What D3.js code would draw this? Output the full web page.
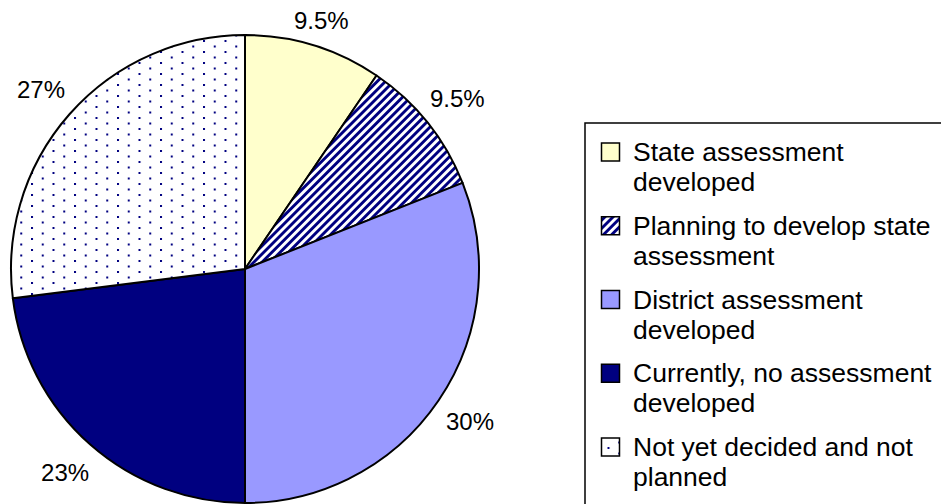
<!DOCTYPE html>
<html>
<head>
<meta charset="utf-8">
<script src="https://cdn.jsdelivr.net/npm/d3@7"></script>
<style>
  body { margin: 0; background: #fff; }
  svg { display: block; }
  text { font-family: "Liberation Sans", Arial, sans-serif; fill: #000; }
</style>
</head>
<body>
<div id="chart"></div>
<script>
// data
var categories = [
  "State assessment developed",
  "Planning to develop state assessment",
  "District assessment developed",
  "Currently, no assessment developed",
  "Not yet decided and not planned"
];
var values = [9.5, 9.5, 31, 23, 27];
var valueLabels = ["9.5%", "9.5%", "30%", "23%", "27%"];
var legendLines = [
  ["State assessment", "developed"],
  ["Planning to develop state", "assessment"],
  ["District assessment", "developed"],
  ["Currently, no assessment", "developed"],
  ["Not yet decided and not", "planned"]
];

var width = 941, height = 504;
var cx = 245, cy = 269, radius = 234;

var svg = d3.select("#chart")
  .append("svg")
  .attr("width", width)
  .attr("height", height);

// fill patterns
var defs = svg.append("defs");

var stripes = defs.append("pattern")
  .attr("id", "stripes")
  .attr("patternUnits", "userSpaceOnUse")
  .attr("width", 5.8)
  .attr("height", 10)
  .attr("patternTransform", "rotate(45)");
stripes.append("rect").attr("width", 5.8).attr("height", 10).attr("fill", "#fff");
stripes.append("rect").attr("width", 2.9).attr("height", 10).attr("fill", "#000080");

var dots = defs.append("pattern")
  .attr("id", "dots")
  .attr("patternUnits", "userSpaceOnUse")
  .attr("x", 1)
  .attr("y", 2)
  .attr("width", 21.5)
  .attr("height", 11);
dots.append("rect").attr("width", 21.5).attr("height", 11).attr("fill", "#fff");
dots.append("rect").attr("x", 0).attr("y", 0).attr("width", 2).attr("height", 2).attr("fill", "#000080");
dots.append("rect").attr("x", 10.75).attr("y", 5.5).attr("width", 2).attr("height", 2).attr("fill", "#000080");

var fills = ["#FFFFCC", "url(#stripes)", "#9999FF", "#000080", "url(#dots)"];

var color = d3.scaleOrdinal().domain(categories).range(fills);

var pie = d3.pie().sort(null).value(function (d) { return d.value; });
var data = categories.map(function (c, i) {
  return { name: c, value: values[i], label: valueLabels[i] };
});
var arcs = pie(data);

var arc = d3.arc().innerRadius(0).outerRadius(radius);
var labelArc = d3.arc().innerRadius(272).outerRadius(272);

var g = svg.append("g")
  .attr("transform", "translate(" + cx + "," + cy + ")");

g.selectAll("path")
  .data(arcs)
  .enter()
  .append("path")
  .attr("d", arc)
  .attr("fill", function (d) { return color(d.data.name); })
  .attr("stroke", "#000")
  .attr("stroke-width", 2)
  .attr("stroke-linejoin", "round");

// percentage labels outside the pie
g.selectAll("text.pct")
  .data(arcs)
  .enter()
  .append("text")
  .attr("class", "pct")
  .attr("transform", function (d) {
    var p = labelArc.centroid(d);
    // keep labels below the top edge, pulling them in along their angle
    var minY = 21 - cy;
    if (p[1] < minY) {
      var k = minY / p[1];
      p = [p[0] * k, minY];
    }
    return "translate(" + p[0] + "," + p[1] + ")";
  })
  .attr("text-anchor", "middle")
  .attr("dy", "0.35em")
  .style("font-size", "24px")
  .text(function (d) { return d.data.label; });

// legend
var legend = svg.append("g").attr("transform", "translate(585,123)");

legend.append("rect")
  .attr("x", 0)
  .attr("y", 0)
  .attr("width", 400)
  .attr("height", 420)
  .attr("fill", "#fff")
  .attr("stroke", "#000")
  .attr("stroke-width", 1.5);

var item = legend.selectAll("g.item")
  .data(data)
  .enter()
  .append("g")
  .attr("class", "item")
  .attr("transform", function (d, i) {
    return "translate(0," + (38 + i * 73.75) + ")";
  });

item.append("rect")
  .attr("x", 16.5)
  .attr("y", -18)
  .attr("width", 18)
  .attr("height", 18)
  .attr("fill", function (d) { return color(d.name); })
  .attr("stroke", "#000")
  .attr("stroke-width", 1.5);

item.append("text")
  .attr("x", 48)
  .attr("y", 0)
  .style("font-size", "26.5px")
  .selectAll("tspan")
  .data(function (d, i) { return legendLines[i]; })
  .enter()
  .append("tspan")
  .attr("x", 48)
  .attr("dy", function (d, j) { return j === 0 ? 0 : 30; })
  .text(function (d) { return d; });
</script>
</body>
</html>
